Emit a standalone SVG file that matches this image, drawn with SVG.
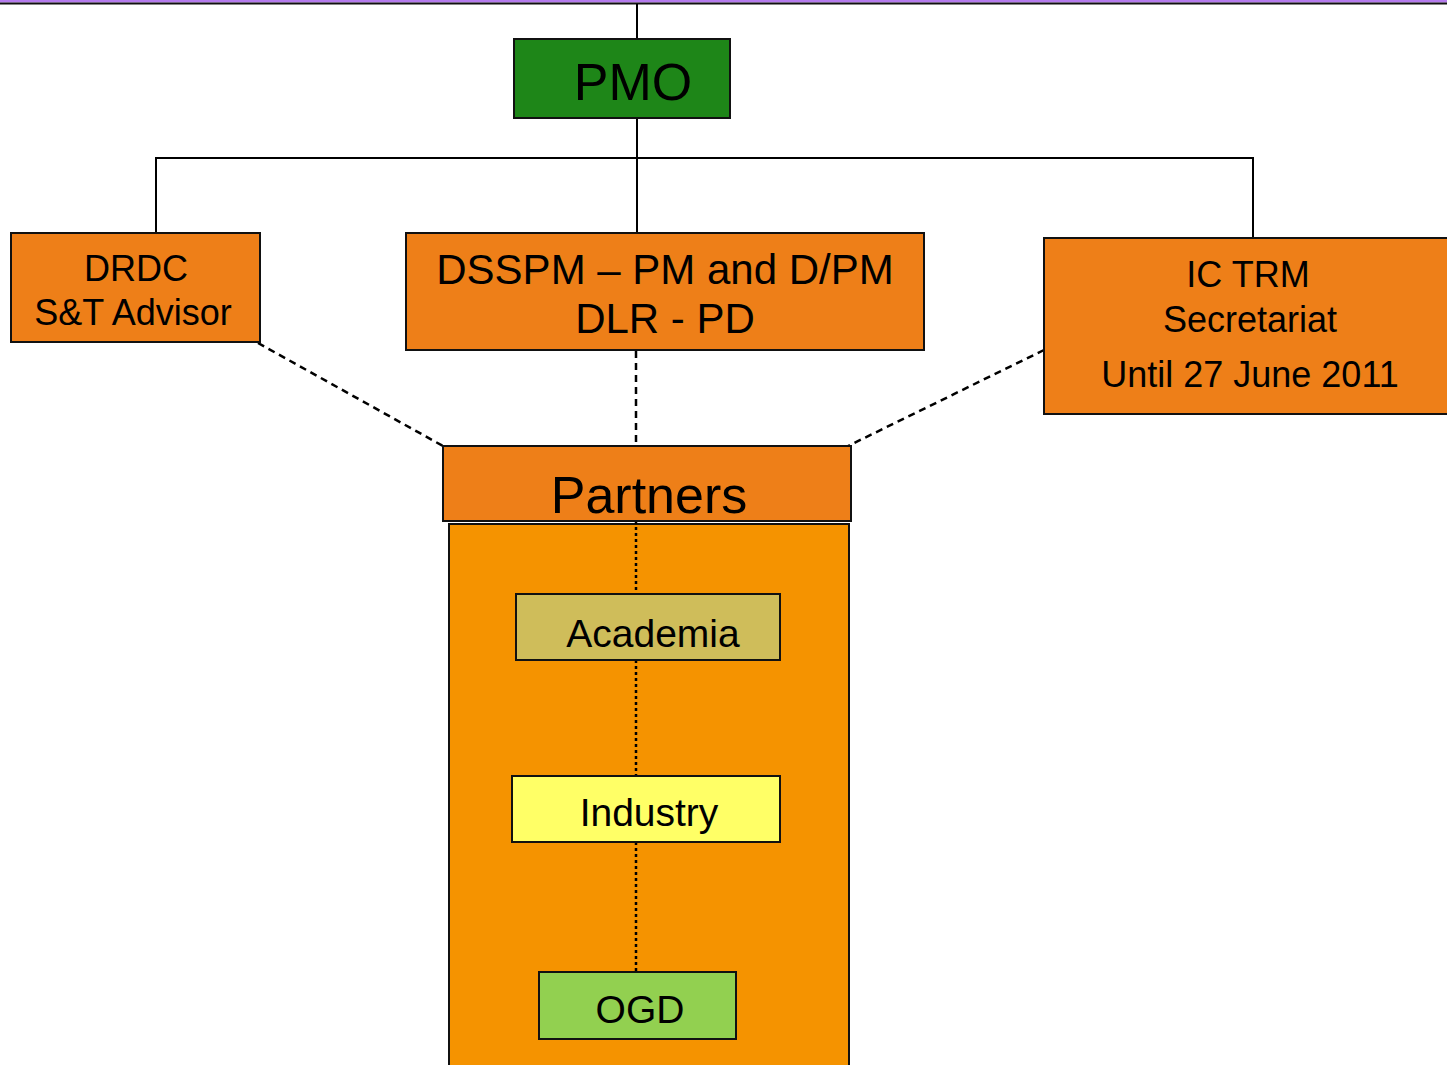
<svg xmlns="http://www.w3.org/2000/svg" width="1447" height="1065" viewBox="0 0 1447 1065">
<style>
.box{stroke:#111;stroke-width:2}
.or{fill:#ee7f18}
text{font-family:"Liberation Sans",Arial,sans-serif;fill:#000;text-anchor:middle}
.ln{stroke:#000;stroke-width:2;fill:none}
.dash{stroke:#000;stroke-width:2.5;fill:none;stroke-dasharray:7,5}
.dot{stroke:#000;stroke-width:2.5;fill:none;stroke-dasharray:3,3}
</style>
<rect x="0" y="0" width="1447" height="1065" fill="#fff"/>
<rect x="0" y="0" width="1447" height="2.5" fill="#b57bee"/>
<rect x="0" y="2.5" width="1447" height="2" fill="#111"/>
<g id="partners-area">
<rect class="box" x="449" y="524" width="400" height="560" fill="#f59300"/>
</g>
<g id="connectors">
<line class="ln" x1="637" y1="4" x2="637" y2="39"/>
<line class="ln" x1="637" y1="118" x2="637" y2="233"/>
<polyline class="ln" points="156,233 156,158 1253,158 1253,238"/>
<line class="dash" x1="258" y1="343" x2="443" y2="446"/>
<line class="dash" x1="636" y1="351" x2="636" y2="446"/>
<line class="dash" x1="1044" y1="350" x2="848" y2="446"/>
<line class="dot" x1="636" y1="521" x2="636" y2="594"/>
<line class="dot" x1="636" y1="660" x2="636" y2="776"/>
<line class="dot" x1="636" y1="842" x2="636" y2="972"/>
</g>
<g id="pmo">
<rect class="box" x="514" y="39" width="216" height="79" fill="#1e8618"/>
<text x="633" y="100" font-size="52">PMO</text>
</g>
<g id="drdc">
<rect class="box or" x="11" y="233" width="249" height="109"/>
<text x="136" y="281" font-size="36">DRDC</text>
<text x="133" y="325" font-size="36">S&amp;T Advisor</text>
</g>
<g id="dsspm">
<rect class="box or" x="406" y="233" width="518" height="117"/>
<text x="665" y="284" font-size="42">DSSPM – PM and D/PM</text>
<text x="665" y="333" font-size="42">DLR - PD</text>
</g>
<g id="ictrm">
<rect class="box or" x="1044" y="238" width="410" height="176"/>
<text x="1248" y="287" font-size="36">IC TRM</text>
<text x="1250" y="332" font-size="36">Secretariat</text>
<text x="1250" y="387" font-size="36">Until 27 June 2011</text>
</g>
<g id="partners">
<rect class="box or" x="443" y="446" width="408" height="75"/>
<text x="649" y="513" font-size="52">Partners</text>
</g>
<g id="academia">
<rect class="box" x="516" y="594" width="264" height="66" fill="#cfbd5a"/>
<text x="653" y="647" font-size="39">Academia</text>
</g>
<g id="industry">
<rect class="box" x="512" y="776" width="268" height="66" fill="#ffff66"/>
<text x="649" y="826" font-size="39">Industry</text>
</g>
<g id="ogd">
<rect class="box" x="539" y="972" width="197" height="67" fill="#92d050"/>
<text x="640" y="1023" font-size="39">OGD</text>
</g>
</svg>
